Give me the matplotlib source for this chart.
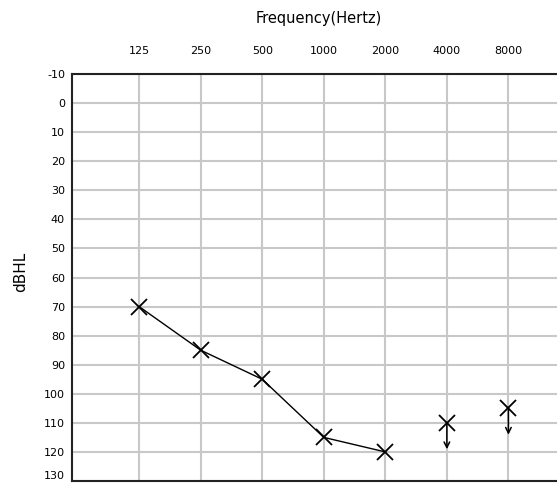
import matplotlib
matplotlib.use("Agg")
import matplotlib.pyplot as plt

freqs = [125, 250, 500, 1000, 2000, 4000, 8000]
freq_labels = ["125", "250", "500", "1000", "2000", "4000", "8000"]
conn_freqs = [125, 250, 500, 1000, 2000]
conn_db = [70, 85, 95, 115, 120]
nr_freqs = [4000, 8000]   # no-response points (arrow down)
nr_db = [110, 105]
yticks = list(range(-10, 131, 10))

W, H = 557, 483
fig = plt.figure(figsize=(W / 100, H / 100), dpi=100)
fig.patch.set_facecolor("white")
left, right, top, bottom = 72, 560, 74, 481
ax = fig.add_axes([left / W, 1 - bottom / H, (right - left) / W, (bottom - top) / H])

ax.set_xscale("log", base=2)
ax.set_xlim(58.7, 14300)
ax.set_ylim(130, -10)
ax.set_xticks(freqs)
ax.set_xticklabels(freq_labels)
ax.minorticks_off()
ax.set_yticks(yticks)
ax.set_yticklabels([str(v) for v in yticks])
ax.xaxis.tick_top()
ax.tick_params(axis="both", length=0, labelsize=8, colors="black")
ax.tick_params(axis="x", pad=13)
ax.tick_params(axis="y", pad=5)
# keep the partially-visible bottom label inside the picture
ax.get_yticklabels()[-1].set_verticalalignment("bottom")
ax.grid(True, color="#c8c8c8", linewidth=1.5)
ax.set_axisbelow(True)
for s in ["left", "top", "bottom"]:
    ax.spines[s].set_linewidth(1.5)
    ax.spines[s].set_color("#222222")
ax.spines["right"].set_visible(False)

ax.plot(conn_freqs, conn_db, color="black", linewidth=1.0, marker="x",
        markersize=11, markeredgewidth=1.3, zorder=3)
ax.plot(nr_freqs, nr_db, linestyle="none", color="black", marker="x",
        markersize=11, markeredgewidth=1.3, zorder=3)
for f, d in zip(nr_freqs, nr_db):
    ax.annotate("", xy=(f, d), xytext=(0, -19), textcoords="offset points",
                xycoords="data",
                arrowprops=dict(arrowstyle="<-", color="black", lw=1.1,
                                shrinkA=0, shrinkB=0, mutation_scale=10))

fig.text(319 / W, 1 - 19 / H, "Frequency(Hertz)", ha="center", va="center", fontsize=10.5)
fig.text(21 / W, 1 - 272 / H, "dBHL", ha="center", va="center", rotation=90, fontsize=11)

fig.savefig("out.png", dpi=100, facecolor="white")
